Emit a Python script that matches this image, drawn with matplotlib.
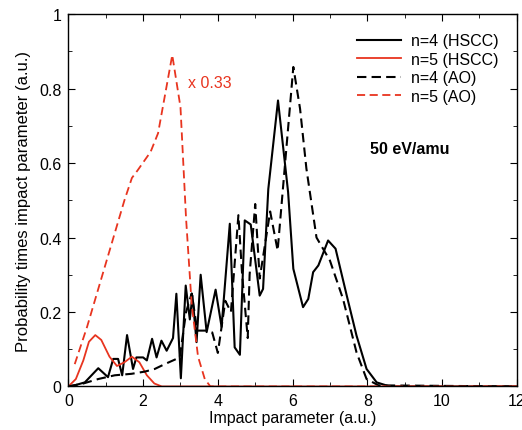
import matplotlib
matplotlib.use('Agg')
import matplotlib.pyplot as plt
from matplotlib.ticker import MultipleLocator

plt.rcParams['font.family'] = ['Liberation Sans', 'DejaVu Sans']

RED = '#e8341f'

# n=4 (HSCC), solid black
b_hscc = [0.0, 0.2, 0.44, 0.8, 1.06, 1.2, 1.33, 1.44, 1.57, 1.73, 1.82, 2.0, 2.1, 2.24,
          2.36, 2.49, 2.63, 2.8, 2.89, 3.01, 3.14, 3.25, 3.32, 3.43, 3.54, 3.7, 3.94,
          4.1, 4.32, 4.45, 4.59, 4.72, 4.88, 5.12, 5.21, 5.35, 5.61, 5.88, 6.02, 6.28,
          6.42, 6.55, 6.69, 6.95, 7.15, 7.45, 7.71, 7.98, 8.25, 8.6, 12.0]
n4_hscc = [0.0, 0.004, 0.011, 0.049, 0.025, 0.074, 0.074, 0.03, 0.138, 0.047, 0.078, 0.078,
           0.07, 0.128, 0.078, 0.123, 0.096, 0.13, 0.249, 0.022, 0.271, 0.18, 0.244, 0.119,
           0.3, 0.146, 0.26, 0.16, 0.437, 0.105, 0.085, 0.446, 0.435, 0.244, 0.262, 0.53,
           0.768, 0.522, 0.316, 0.213, 0.235, 0.307, 0.325, 0.392, 0.37, 0.244, 0.137,
           0.047, 0.011, 0.0, 0.0]

# n=5 (HSCC), solid red
b_n5 = [0.0, 0.2, 0.4, 0.55, 0.72, 0.88, 1.1, 1.3, 1.5, 1.7, 1.9, 2.1, 2.3, 2.5, 12.0]
n5_hscc = [0.0, 0.02, 0.07, 0.12, 0.138, 0.125, 0.08, 0.055, 0.065, 0.08, 0.065, 0.03,
           0.008, 0.0, 0.0]

# n=4 (AO), dashed black
b_ao = [0.0, 0.4, 0.8, 1.24, 1.69, 2.05, 2.31, 2.58, 2.98, 3.15, 3.3, 3.45, 3.7, 3.85,
        4.0, 4.2, 4.35, 4.55, 4.65, 4.8, 4.85, 5.0, 5.12, 5.4, 5.6, 6.02, 6.2, 6.37,
        6.64, 7.0, 7.35, 7.71, 7.98, 8.3, 12.0]
n4_ao = [0.0, 0.008, 0.02, 0.03, 0.034, 0.04, 0.047, 0.06, 0.078, 0.2, 0.25, 0.15, 0.15,
         0.145, 0.09, 0.23, 0.2, 0.46, 0.3, 0.13, 0.3, 0.49, 0.29, 0.47, 0.365, 0.858,
         0.746, 0.585, 0.4, 0.338, 0.235, 0.092, 0.02, 0.003, 0.0]

# n=5 (AO) x 0.33, dashed red
b_n5ao = [0.17, 0.5, 1.0, 1.5, 1.7, 1.85, 2.2, 2.4, 2.78, 3.0, 3.15, 3.3, 3.47, 3.65, 3.8, 12.0]
n5_ao = [0.06, 0.16, 0.33, 0.5, 0.56, 0.58, 0.63, 0.68, 0.89, 0.75, 0.45, 0.22, 0.08,
         0.02, 0.0, 0.0]

fig = plt.figure(figsize=(5.22, 4.31), dpi=100)
ax = fig.add_axes([0.131, 0.101, 0.859, 0.864])

ax.plot(b_hscc, n4_hscc, color='black', lw=1.5, label='n=4 (HSCC)')
ax.plot(b_n5, n5_hscc, color=RED, lw=1.3, label='n=5 (HSCC)')
ax.plot(b_ao, n4_ao, color='black', lw=1.5, dashes=(4.5, 2.5), label='n=4 (AO)')
ax.plot(b_n5ao, n5_ao, color=RED, lw=1.3, dashes=(4.5, 2.5), label='n=5 (AO)')

ax.text(3.19, 0.816, 'x 0.33', color=RED, fontsize=11.5, va='center')
ax.text(8.07, 0.638, '50 eV/amu', fontsize=11.5, fontweight='bold', va='center')

ax.set_xlim(0, 12)
ax.set_ylim(0, 1)
ax.xaxis.set_major_locator(MultipleLocator(2))
ax.xaxis.set_minor_locator(MultipleLocator(1))
ax.yaxis.set_minor_locator(MultipleLocator(0.1))
ax.set_yticks([0, 0.2, 0.4, 0.6, 0.8, 1.0], ['0', '0.2', '0.4', '0.6', '0.8', '1'])
ax.tick_params(which='both', direction='in', top=True, right=True, labelsize=11.5, pad=5)
ax.tick_params(which='major', length=5)
ax.tick_params(which='minor', length=3)
for s in ax.spines.values():
    s.set_linewidth(1.0)

ax.set_xlabel('Impact parameter (a.u.)', fontsize=11.5, labelpad=1)
ax.set_ylabel('Probability times impact parameter (a.u.)', fontsize=12, labelpad=6)

ax.legend(loc='upper left', bbox_to_anchor=(0.625, 0.97), frameon=False, fontsize=11.5,
          handlelength=2.8, handletextpad=0.6, labelspacing=0.22, borderpad=0)

fig.savefig('out.png', dpi=100)
